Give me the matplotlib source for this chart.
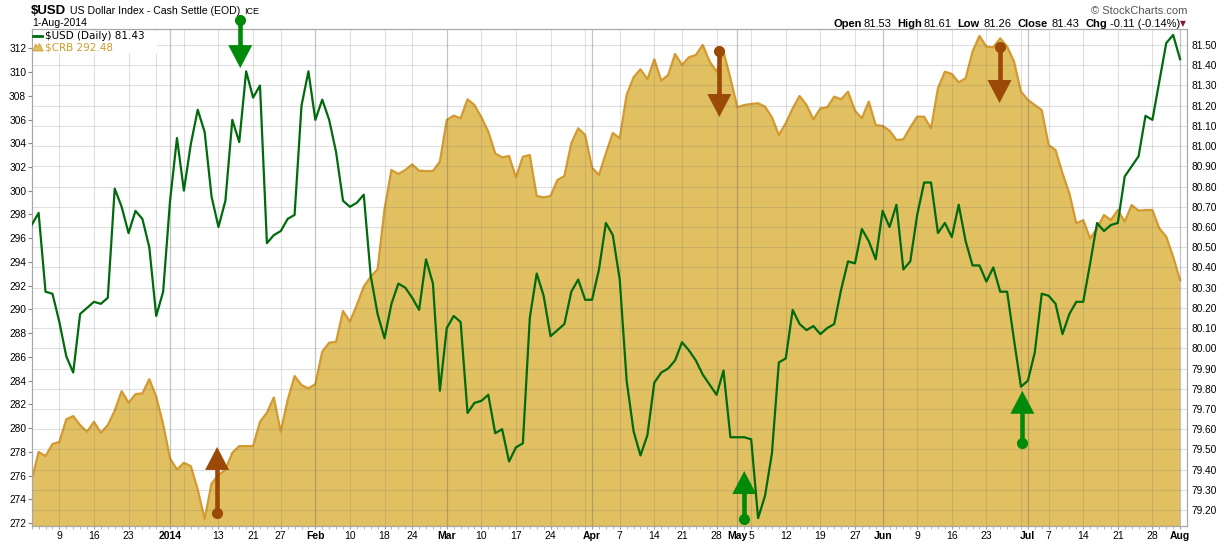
import numpy as np
import pandas as pd
import matplotlib
matplotlib.use("Agg")
import matplotlib.pyplot as plt
from matplotlib.lines import Line2D
from matplotlib.patches import Polygon, Rectangle
from matplotlib.transforms import IdentityTransform

plt.rcParams['text.parse_math'] = False
plt.rcParams['font.family'] = ['Liberation Sans', 'DejaVu Sans']

# trading days on the chart (no quotes on the US market holidays)
holidays = ['2013-12-25', '2014-01-01', '2014-01-20', '2014-02-17',
            '2014-04-18', '2014-05-26', '2014-07-04']
days = pd.bdate_range('2013-12-03', '2014-08-01')
days = days[~days.isin(pd.to_datetime(holidays))]

# $USD daily close (right scale)
usd = [80.61, 80.67, 80.28, 80.27,
       80.13, 79.96, 79.88, 80.17, 80.20,
       80.23, 80.22, 80.25, 80.79, 80.70,
       80.57, 80.68, 80.64, 80.50,
       80.16, 80.28,
       80.73, 81.04,
       80.78, 81.01, 81.18, 81.07, 80.75,
       80.60, 80.73, 81.13, 81.02, 81.37,
       81.24, 81.30, 80.52, 80.56,
       80.58, 80.64, 80.66, 81.20, 81.37,
       81.13, 81.23, 81.13, 80.97, 80.73,
       80.70, 80.72, 80.76, 80.36, 80.17,
       80.05, 80.22, 80.32, 80.30,
       80.25, 80.19, 80.44, 80.32, 79.79,
       80.10, 80.16, 80.13, 79.68, 79.73,
       79.74, 79.77, 79.58, 79.60, 79.44,
       79.51, 79.53, 80.15, 80.37, 80.26,
       80.06, 80.09, 80.12, 80.28, 80.34,
       80.24, 80.24, 80.39, 80.62, 80.56,
       80.34, 79.84, 79.59, 79.47, 79.57,
       79.83, 79.88, 79.90, 79.94,
       80.03, 79.99, 79.94, 79.87, 79.82,
       79.77, 79.89, 79.56, 79.56, 79.56,
       79.55, 79.16, 79.27, 79.48, 79.93,
       79.95, 80.19, 80.12, 80.09, 80.11,
       80.07, 80.10, 80.12, 80.29, 80.43,
       80.42, 80.59, 80.53, 80.44,
       80.68, 80.60, 80.71, 80.39, 80.43,
       80.66, 80.82, 80.82, 80.57, 80.62,
       80.55, 80.71, 80.53, 80.41, 80.41,
       80.33, 80.40, 80.28, 80.28, 80.04,
       79.81, 79.84, 79.98, 80.27,
       80.26, 80.22, 80.07, 80.17, 80.23,
       80.23, 80.42, 80.62, 80.58, 80.61,
       80.62, 80.85, 80.90, 80.95, 81.15,
       81.13, 81.32, 81.51, 81.55, 81.43]

# $CRB daily close (left scale, area)
crb = [275.6, 278.0, 277.65, 278.66,
       278.85, 280.74, 281.02, 280.26, 279.70,
       280.54, 279.61, 280.26, 281.47, 283.12,
       282.14, 282.87, 282.93, 284.13,
       282.65, 280.34,
       277.45, 276.52,
       277.08, 276.80, 274.84, 272.34, 275.34,
       276.04, 276.5, 277.93, 278.49, 278.49,
       278.49, 280.54, 281.30, 282.59,
       279.70, 282.37, 284.39, 283.63, 283.35,
       283.71, 286.44, 287.20, 287.28, 289.87,
       288.97, 290.37, 291.92, 292.76, 293.38,
       298.43, 301.75, 301.41, 301.75,
       302.22, 301.69, 301.66, 301.66, 302.45,
       305.96, 306.33, 306.10, 307.70, 307.22,
       306.19, 304.98, 303.15, 302.81, 302.93,
       301.13, 302.87, 303.01, 299.56, 299.44,
       299.56, 300.90, 301.24, 304.00, 305.26,
       304.70, 301.94, 301.33, 303.15, 304.87,
       304.42, 308.07, 309.56, 310.23, 309.39,
       311.07, 309.28, 309.75, 311.52,
       310.60, 311.24, 311.44, 312.28, 310.88,
       310.03, 311.72, 309.47, 307.03, 307.22,
       307.31, 307.37, 307.08, 306.19, 304.70,
       305.68, 306.94, 307.98, 307.22, 306.01,
       306.94, 307.03, 307.93, 307.70, 308.35,
       306.75, 306.10, 307.51, 305.54,
       305.46, 305.06, 304.28, 304.33, 305.34,
       306.24, 306.24, 305.26, 308.63, 310.03,
       309.84, 309.13, 309.47, 311.72, 313.04,
       312.14, 312.08, 312.84, 312.14, 310.88,
       308.35, 307.65, 307.22, 306.80,
       303.85, 303.43, 301.47, 299.78, 297.25,
       297.53, 295.99, 296.83, 297.96, 297.53,
       298.38, 297.39, 298.80, 298.32, 298.38,
       298.38, 296.83, 296.13, 294.44, 292.48]

assert len(usd) == len(days) and len(crb) == len(days)

tick_dates = ['2013-12-09', '2013-12-16', '2013-12-23', '2014-01-02', '2014-01-13',
              '2014-01-21', '2014-01-27', '2014-02-03', '2014-02-10', '2014-02-18',
              '2014-02-24', '2014-03-03', '2014-03-10', '2014-03-17', '2014-03-24',
              '2014-04-01', '2014-04-07', '2014-04-14', '2014-04-21', '2014-04-28',
              '2014-05-01', '2014-05-05', '2014-05-12', '2014-05-19', '2014-05-27',
              '2014-06-02', '2014-06-09', '2014-06-16', '2014-06-23', '2014-07-01',
              '2014-07-07', '2014-07-14', '2014-07-21', '2014-07-28', '2014-08-01']
tick_labels = ['9', '16', '23', '2014', '13', '21', '27', 'Feb', '10', '18', '24',
               'Mar', '10', '17', '24', 'Apr', '7', '14', '21', '28', 'May', '5',
               '12', '19', '27', 'Jun', '9', '16', '23', 'Jul', '7', '14', '21',
               '28', 'Aug']
bold_labels = ['2014', 'Feb', 'Mar', 'Apr', 'May', 'Jun', 'Jul', 'Aug']

crb_ticks = np.arange(272, 313, 2)
usd_ticks = np.round(np.arange(79.2, 81.51, 0.1), 2)

# hand drawn arrows: day position, start value, end value, scale, colour
arrow_x = [26.8, 30.15, 99.4, 103.0, 139.9, 143.2]
arrow_from = [272.86, 81.624, 311.77, 79.156, 312.11, 79.53]
arrow_to = [278.42, 81.386, 306.21, 79.393, 307.39, 79.79]
arrow_scale = ['crb', 'usd', 'crb', 'usd', 'crb', 'usd']
arrow_color = ['#9a4a06', '#008a0a', '#9a4a06', '#008a0a', '#9a4a06', '#008a0a']

fill_c = '#e1c061'
edge_c = '#d49a30'
line_c = '#006b0c'
grid_c = (0.45, 0.45, 0.45, 0.22)

W, H = 1230, 546
fig = plt.figure(figsize=(W / 100, H / 100), dpi=100)
ax = fig.add_axes([31.7 / W, 1 - 526 / H, (1187 - 31.7) / W, (526 - 29.3) / H])
ax2 = ax.twinx()

x = np.arange(len(days))
ax.set_xlim(0.51, 167.0)
ax.set_ylim(271.76, 313.6)
ax2.set_ylim(79.121, 81.578)

ax.fill_between(x, crb, 265, color=fill_c, lw=0, zorder=1)
ax.plot(x, crb, color=edge_c, lw=1.6, zorder=2)

# grid follows the right scale and the weekly / monthly dates
for v in usd_ticks:
    ax2.axhline(v, color=grid_c, lw=0.8, zorder=0.5)
for i in range(1, len(days)):
    if days[i].month != days[i - 1].month:
        ax2.axvline(x[i], color=(0.4, 0.4, 0.4, 0.38), lw=0.9, zorder=0.5)
    elif days[i].isocalendar()[1] != days[i - 1].isocalendar()[1]:
        ax2.axvline(x[i], color=grid_c, lw=0.8, zorder=0.5)

ax2.plot(x, usd, color=line_c, lw=1.6, zorder=3)

# axes styling
for a in (ax, ax2):
    for s in a.spines.values():
        s.set_color('#a8a8a8')
        s.set_linewidth(0.8)

ax.set_yticks(crb_ticks)
ax.set_yticklabels([str(v) for v in crb_ticks])
ax.tick_params(axis='y', length=3, width=0.8, color='#888888', pad=1, labelsize=7.3)
ax2.set_yticks(usd_ticks)
ax2.set_yticklabels(['%.2f' % v for v in usd_ticks])
ax2.tick_params(axis='y', length=0, pad=3, labelsize=7.3)

pos = [days.get_loc(pd.Timestamp(d)) for d in tick_dates]
ax.set_xticks(pos)
ax.set_xticklabels(tick_labels)
ax.set_xticks(x, minor=True)
ax.tick_params(axis='x', which='major', length=2, color='#999999', pad=1.5, labelsize=7.5)
ax.tick_params(axis='x', which='minor', length=2, width=0.6, color='#aaaaaa')
for t in ax.get_xticklabels():
    if t.get_text() in bold_labels:
        t.set_fontweight('bold')

# arrows drawn in screen pixels from the data anchors
for xi, y0, y1, sc, c in zip(arrow_x, arrow_from, arrow_to, arrow_scale, arrow_color):
    tr = (ax if sc == 'crb' else ax2).transData
    px, p0 = tr.transform((xi, y0))
    _, p1 = tr.transform((xi, y1))
    d = np.sign(p1 - p0)
    base = p1 - d * 23
    ax2.add_line(Line2D([px, px], [p0, base], lw=3.3, color=c,
                        transform=IdentityTransform(), clip_on=False, zorder=5))
    ax2.add_patch(Polygon([[px - 12, base], [px + 12, base], [px, p1]], closed=True,
                          color=c, lw=0, transform=IdentityTransform(),
                          clip_on=False, zorder=5))
    ax2.add_line(Line2D([px], [p0], marker='o', ms=7, color=c, lw=0,
                        transform=IdentityTransform(), clip_on=False, zorder=6))


def fx(p):
    return p / W


def fy(p):
    return 1 - p / H


# header texts
fig.text(fx(31), fy(10.5), '$USD', fontsize=9.5, fontweight='bold', va='center')
fig.text(fx(70), fy(11), 'US Dollar Index - Cash Settle (EOD)', fontsize=7.6, va='center')
fig.text(fx(244), fy(11.5), 'ICE', fontsize=6.5, va='center')
fig.text(fx(32), fy(23.5), '1-Aug-2014', fontsize=7.6, va='center')

fig.text(fx(1187), fy(11), '\u00a9 StockCharts.com', fontsize=8, color='#555555',
         ha='right', va='center')
ohlc = [(833, 'Open', True), (863, '81.53', False), (897, 'High', True),
        (924, '81.61', False), (957, 'Low', True), (983, '81.26', False),
        (1017, 'Close', True), (1052, '81.43', False), (1086, 'Chg', True),
        (1110, '-0.11 (-0.14%)', False)]
for px, s, b in ohlc:
    fig.text(fx(px), fy(24), s, fontsize=8, va='center',
             fontweight='bold' if b else 'normal')
fig.text(fx(1180), fy(24), '\u25bc', fontsize=5.5, color='#8c1030', va='center',
         family=['DejaVu Sans'])

# legend on a white patch that hides the grid
fig.add_artist(Rectangle((fx(32.5), fy(53)), fx(124), (53 - 30.5) / H,
                         facecolor='white', edgecolor='none', zorder=2.5,
                         transform=fig.transFigure))
fig.add_artist(Line2D([fx(33), fx(42)], [fy(36), fy(36)], color=line_c, lw=2, zorder=3))
fig.text(fx(45), fy(36), '$USD (Daily) 81.43', fontsize=7.5, va='center',
         family=['DejaVu Sans'], zorder=3)
fig.add_artist(Polygon([[fx(33), fy(51)], [fx(35.5), fy(44)], [fx(37.5), fy(47)],
                        [fx(39.5), fy(43.5)], [fx(43), fy(51)]], closed=True,
                       facecolor=fill_c, edgecolor=edge_c, lw=0.6, zorder=3,
                       transform=fig.transFigure))
fig.text(fx(45), fy(47), '$CRB 292.48', fontsize=7.5, va='center', color='#d09a28',
         family=['DejaVu Sans'], zorder=3)

fig.savefig('out.png', dpi=100)
